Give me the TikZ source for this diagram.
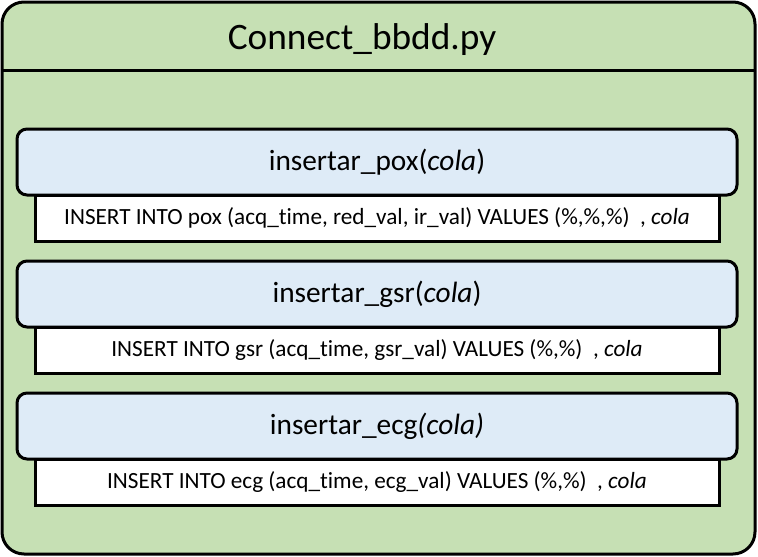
\documentclass[tikz,border=0pt]{standalone}
\usepackage{fontspec}
\setmainfont[Ligatures=NoCommon]{Carlito}
\usetikzlibrary{positioning}
\definecolor{filegreen}{HTML}{C6E0B4}
\definecolor{funcblue}{HTML}{DEEBF7}

\begin{document}
\begin{tikzpicture}[x=0.75pt, y=-0.75pt, line width=2.25pt, node distance=15pt,
  func/.style={draw, outer sep=0pt, rounded corners=7.5pt, fill=funcblue, minimum width=540pt, minimum height=49.5pt, font=\fontsize{22}{26}\selectfont},
  query/.style={draw, outer sep=0pt, fill=white, minimum width=513pt, minimum height=34.5pt, inner sep=0pt, font=\fontsize{17.4}{20}\selectfont}]

  \useasboundingbox (0,0) rectangle (758,557);

  % File box
  \node[draw, outer sep=0pt, rounded corners=16.5pt, fill=filegreen, minimum width=564.75pt, minimum height=414pt] (file) at (378.5,278) {};
  \node[font=\fontsize{28}{32}\selectfont] (title) at (362,40) {Connect\_bbdd.py};
  \coordinate (sep) at (0,70);
  \draw (file.west |- sep) -- (file.east |- sep);

  % Functions
  \node[func] (pox) at (377,162) {insertar\_pox(\textit{cola})};
  \node[query, below=0pt of pox] (poxsql) {INSERT INTO pox (acq\_time, red\_val, ir\_val) VALUES (\%,\%,\%)\ \ , \textit{cola}};

  \node[func, below=15pt of poxsql] (gsr) {insertar\_gsr(\textit{cola})};
  \node[query, below=0pt of gsr] (gsrsql) {INSERT INTO gsr (acq\_time, gsr\_val) VALUES (\%,\%)\ \ , \textit{cola}};

  \node[func, below=15pt of gsrsql] (ecg) {insertar\_ecg\textit{(cola)}};
  \node[query, below=0pt of ecg] (ecgsql) {INSERT INTO ecg (acq\_time, ecg\_val) VALUES (\%,\%)\ \ , \textit{cola}};

\end{tikzpicture}
\end{document}
